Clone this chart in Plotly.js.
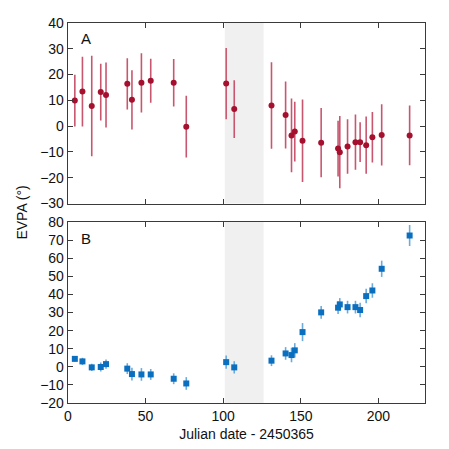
<!DOCTYPE html>
<html>
<head>
<meta charset="utf-8">
<script src="https://cdn.plot.ly/plotly-3.0.1.min.js"></script>
<style>
  html, body { margin: 0; padding: 0; background: #fff; }
  #chart { width: 449px; height: 449px; }
</style>
</head>
<body>
<div id="chart"></div>
<script>
// panel A: EVPA values (deg)
var jdA = [4.4, 9.3, 15.3, 21.1, 24.5, 38.2, 41.2, 47.3, 53.3, 68.1, 76.2, 101.9, 107.1,
  131.1, 140.2, 144.0, 146.1, 151.1, 163.1, 174.0, 175.1, 180.1, 185.2, 188.2, 192.1, 196.1, 202.1, 220.1];
var evpaA = [9.9, 13.4, 7.8, 13.2, 12.1, 16.4, 10.2, 16.8, 17.6, 16.8, -0.2, 16.5, 6.6,
  8.0, 4.3, -3.6, -2.1, -5.7, -6.4, -8.7, -10.1, -7.9, -6.2, -6.2, -7.4, -4.3, -3.4, -3.6];
var errA = [10, 13.5, 19.5, 11, 12.6, 9.9, 11.5, 11.5, 8.5, 9.2, 12, 13.8, 11.2,
  16.8, 13, 14.3, 11.6, 16, 13.4, 10.8, 14, 10.6, 10.7, 7.7, 11.1, 9.8, 11.9, 11.6];

// panel B: same dates
var jdB = jdA;
var evpaB = [4.4, 3.0, -0.3, -0.1, 1.5, -1.0, -4.0, -4.2, -4.2, -6.6, -9.2, 2.6, -0.3,
  3.4, 7.4, 6.5, 9.1, 19.2, 30.1, 32.7, 34.5, 33.0, 33.0, 31.4, 39.1, 42.2, 54.2, 72.6];
var errB = [1.5, 2, 2, 2.5, 2.5, 3, 3.5, 3.5, 3, 3, 3.5, 3.6, 3.4,
  3, 3.5, 4, 4, 5, 3.5, 3.5, 3.5, 3.5, 3.5, 4, 4, 4, 4.5, 5.8];

var shadeRange = [101, 126];

var traceA = {
  x: jdA,
  y: evpaA,
  type: 'scatter',
  mode: 'markers',
  xaxis: 'x',
  yaxis: 'y',
  marker: { color: '#a5102f', size: 6 },
  error_y: { type: 'data', array: errA, visible: true, color: '#c9566f', thickness: 1.6, width: 0 },
  showlegend: false
};

var traceB = {
  x: jdB,
  y: evpaB,
  type: 'scatter',
  mode: 'markers',
  xaxis: 'x2',
  yaxis: 'y2',
  marker: { color: '#0b6fc0', size: 6, symbol: 'square' },
  error_y: { type: 'data', array: errB, visible: true, color: '#6aabdc', thickness: 1.6, width: 0 },
  showlegend: false
};

var axisStyle = {
  showline: true,
  linecolor: '#3a3a3a',
  linewidth: 1.3,
  mirror: 'ticks',
  ticks: 'inside',
  ticklen: 5,
  tickcolor: '#3a3a3a',
  showgrid: false,
  zeroline: false
};

var layout = {
  width: 449,
  height: 449,
  margin: { l: 68, r: 24, t: 23, b: 46 },
  paper_bgcolor: '#ffffff',
  plot_bgcolor: '#ffffff',
  font: { family: 'Liberation Sans, Arial, sans-serif', size: 14, color: '#111111' },
  xaxis: Object.assign({}, axisStyle, {
    domain: [0, 1], anchor: 'y', range: [0, 230], dtick: 50, showticklabels: false
  }),
  yaxis: Object.assign({}, axisStyle, {
    domain: [0.525, 1], anchor: 'x', range: [-30, 40], dtick: 10
  }),
  xaxis2: Object.assign({}, axisStyle, {
    domain: [0, 1], anchor: 'y2', range: [0, 230], dtick: 50,
    title: { text: 'Julian date - 2450365', font: { size: 14 }, standoff: 6 }
  }),
  yaxis2: Object.assign({}, axisStyle, {
    domain: [0, 0.476], anchor: 'x2', range: [-20, 80], dtick: 10
  }),
  shapes: [
    { type: 'rect', xref: 'x', yref: 'y domain', x0: shadeRange[0], x1: shadeRange[1], y0: 0, y1: 1,
      fillcolor: '#f0f0f0', line: { width: 0 }, layer: 'below' },
    { type: 'rect', xref: 'x2', yref: 'y2 domain', x0: shadeRange[0], x1: shadeRange[1], y0: 0, y1: 1,
      fillcolor: '#f0f0f0', line: { width: 0 }, layer: 'below' }
  ],
  annotations: [
    { text: 'A', xref: 'x domain', yref: 'y domain', x: 0.03, y: 0.97, xanchor: 'left', yanchor: 'top',
      showarrow: false, font: { size: 15 } },
    { text: 'B', xref: 'x2 domain', yref: 'y2 domain', x: 0.03, y: 0.97, xanchor: 'left', yanchor: 'top',
      showarrow: false, font: { size: 15 } },
    { text: 'EVPA (°)', xref: 'paper', yref: 'paper', x: -0.13, y: 0.5, textangle: -90,
      xanchor: 'center', yanchor: 'middle', showarrow: false, font: { size: 14 } }
  ]
};

Plotly.newPlot('chart', [traceA, traceB], layout, { displayModeBar: false, staticPlot: true });
</script>
</body>
</html>
